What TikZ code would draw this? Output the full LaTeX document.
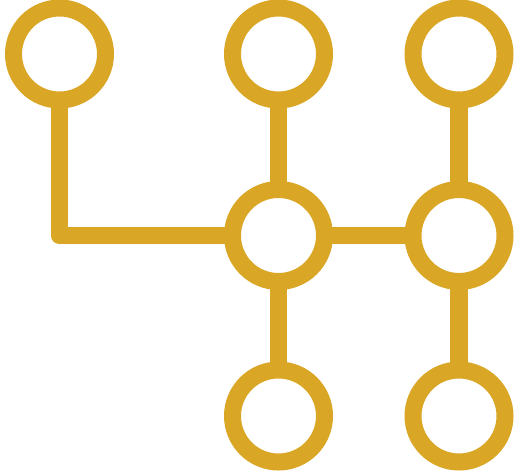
\documentclass[tikz,border=0pt]{standalone}
\definecolor{gold}{RGB}{218,166,38}
\begin{document}
\begin{tikzpicture}[x=1pt,y=-1pt,
  hub/.style={circle,draw=gold,line width=17pt,minimum size=92pt,inner sep=0pt,outer sep=0pt},
  link/.style={draw=gold,line width=17.5pt,line join=round}]
\useasboundingbox (0,0) rectangle (527,474);
\node[hub] (tl) at (59.5,54) {};
\node[hub] (tm) at (278.5,54) {};
\node[hub] (tr) at (459,54) {};
\node[hub] (mm) at (278.5,235.5) {};
\node[hub] (mr) at (459,235.5) {};
\node[hub] (bm) at (278.5,416) {};
\node[hub] (br) at (459,416) {};
\draw[link] (tl) |- (mm);
\draw[link] (mm) -- (tm);
\draw[link] (mm) -- (bm);
\draw[link] (mm) -- (mr);
\draw[link] (mr) -- (tr);
\draw[link] (mr) -- (br);
\end{tikzpicture}
\end{document}
